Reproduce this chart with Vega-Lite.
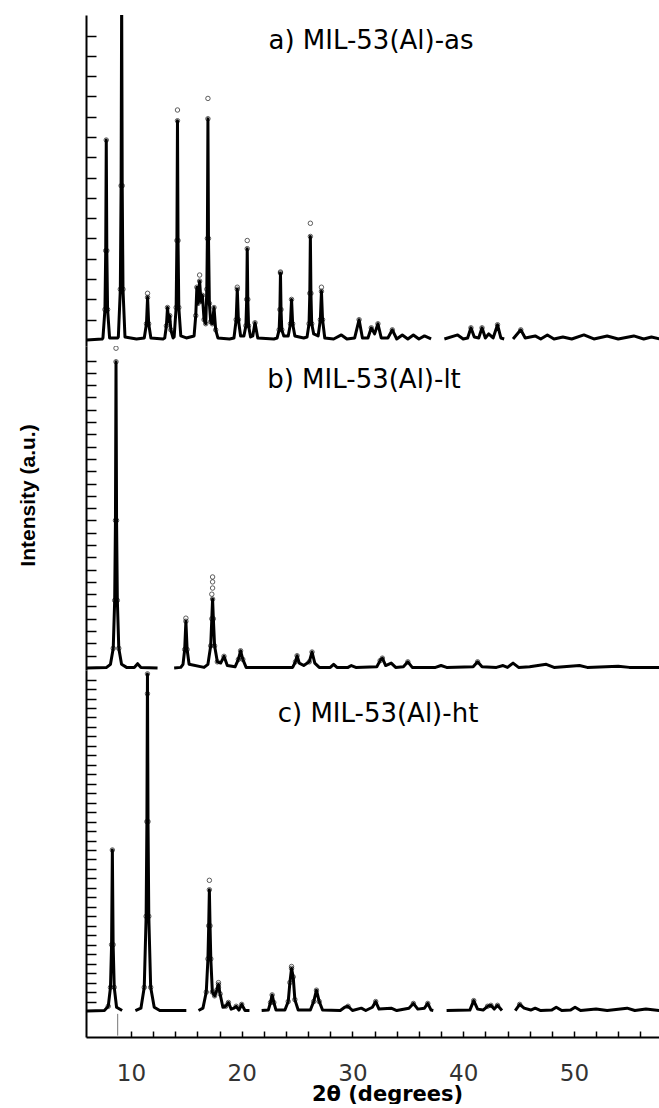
{
  "$schema": "https://vega.github.io/schema/vega-lite/v6.json",
  "padding": {"left": 17, "top": 15, "right": 0, "bottom": 0},
  "bounds": "flush",
  "spacing": 0,
  "config": {
    "view": {"stroke": null},
    "axis": {"grid": false, "domainColor": "black", "domainWidth": 2, "tickColor": "black", "tickWidth": 1.5},
    "title": {"font": "DejaVu Sans", "fontSize": 26, "fontWeight": "normal", "color": "black", "anchor": "middle", "frame": "group", "baseline": "alphabetic"}
  },
  "datasets": {
    "a": [
      {"s":1,"x":6.0,"y":0},{"s":1,"x":7.4,"y":0.05},{"s":1,"x":7.47,"y":0.1},{"s":1,"x":7.65,"y":1.5},{"s":1,"x":7.72,"y":4.4},{"s":1,"x":7.77,"y":9.85},{"s":1,"x":7.82,"y":4.4},{"s":1,"x":7.89,"y":1.5},{"s":1,"x":8.07,"y":0.1},{"s":1,"x":8.8,"y":0.1},
      {"s":1,"x":8.86,"y":0.15},{"s":1,"x":9.04,"y":2.5},{"s":1,"x":9.11,"y":7.6},{"s":1,"x":9.16,"y":17},{"s":1,"x":9.21,"y":7.6},{"s":1,"x":9.28,"y":2.5},{"s":1,"x":9.46,"y":0.15},{"s":1,"x":10.5,"y":0.05},
      {"s":1,"x":11.2,"y":0.1},{"s":1,"x":11.4,"y":0.8},{"s":1,"x":11.5,"y":2.1},{"s":1,"x":11.6,"y":0.8},{"s":1,"x":11.8,"y":0.1},{"s":1,"x":12.9,"y":0.05},
      {"s":1,"x":13.05,"y":0.1},{"s":1,"x":13.2,"y":0.7},{"s":1,"x":13.3,"y":1.6},{"s":1,"x":13.4,"y":0.9},{"s":1,"x":13.5,"y":1.2},{"s":1,"x":13.6,"y":0.5},{"s":1,"x":13.8,"y":0.1},
      {"s":1,"x":13.9,"y":0.15},{"s":1,"x":14.08,"y":1.6},{"s":1,"x":14.15,"y":4.9},{"s":1,"x":14.2,"y":10.8},{"s":1,"x":14.25,"y":4.9},{"s":1,"x":14.32,"y":1.6},{"s":1,"x":14.5,"y":0.2},{"s":1,"x":15.0,"y":0.1},
      {"s":1,"x":15.7,"y":0.2},{"s":1,"x":15.85,"y":1.2},{"s":1,"x":15.95,"y":2.6},{"s":1,"x":16.05,"y":1.8},{"s":1,"x":16.2,"y":2.9},{"s":1,"x":16.32,"y":1.9},{"s":1,"x":16.45,"y":2.2},{"s":1,"x":16.6,"y":1.0},{"s":1,"x":16.75,"y":0.8},
      {"s":1,"x":16.85,"y":2.5},{"s":1,"x":16.9,"y":5.0},{"s":1,"x":16.95,"y":10.9},{"s":1,"x":17.0,"y":5.0},{"s":1,"x":17.08,"y":1.8},{"s":1,"x":17.2,"y":0.9},{"s":1,"x":17.35,"y":0.8},{"s":1,"x":17.5,"y":1.6},{"s":1,"x":17.65,"y":0.5},{"s":1,"x":17.85,"y":0.1},
      {"s":1,"x":18.9,"y":0.05},{"s":1,"x":19.3,"y":0.1},{"s":1,"x":19.5,"y":1.0},{"s":1,"x":19.6,"y":2.5},{"s":1,"x":19.7,"y":1.0},{"s":1,"x":19.9,"y":0.2},
      {"s":1,"x":20.2,"y":0.2},{"s":1,"x":20.38,"y":0.7},{"s":1,"x":20.45,"y":2.0},{"s":1,"x":20.5,"y":4.5},{"s":1,"x":20.55,"y":2.0},{"s":1,"x":20.62,"y":0.7},{"s":1,"x":20.8,"y":0.15},{"s":1,"x":21.0,"y":0.2},{"s":1,"x":21.2,"y":0.85},{"s":1,"x":21.45,"y":0.1},
      {"s":1,"x":22.9,"y":0.05},{"s":1,"x":23.2,"y":0.1},{"s":1,"x":23.38,"y":0.5},{"s":1,"x":23.45,"y":1.5},{"s":1,"x":23.5,"y":3.3},{"s":1,"x":23.55,"y":1.5},{"s":1,"x":23.62,"y":0.5},{"s":1,"x":23.8,"y":0.2},
      {"s":1,"x":24.2,"y":0.2},{"s":1,"x":24.4,"y":0.8},{"s":1,"x":24.5,"y":2.0},{"s":1,"x":24.6,"y":0.8},{"s":1,"x":24.8,"y":0.2},{"s":1,"x":25.6,"y":0.1},
      {"s":1,"x":25.9,"y":0.15},{"s":1,"x":26.08,"y":0.8},{"s":1,"x":26.15,"y":2.3},{"s":1,"x":26.2,"y":5.1},{"s":1,"x":26.25,"y":2.3},{"s":1,"x":26.32,"y":0.8},{"s":1,"x":26.5,"y":0.3},
      {"s":1,"x":26.9,"y":0.2},{"s":1,"x":27.1,"y":1.0},{"s":1,"x":27.2,"y":2.4},{"s":1,"x":27.3,"y":1.0},{"s":1,"x":27.5,"y":0.1},
      {"s":1,"x":28.3,"y":0.05},{"s":1,"x":29.0,"y":0.25},{"s":1,"x":29.5,"y":0.05},{"s":1,"x":30.2,"y":0.1},{"s":1,"x":30.6,"y":1.0},{"s":1,"x":30.9,"y":0.1},{"s":1,"x":31.4,"y":0.1},{"s":1,"x":31.7,"y":0.6},{"s":1,"x":32.0,"y":0.3},{"s":1,"x":32.3,"y":0.8},{"s":1,"x":32.6,"y":0.1},
      {"s":1,"x":33.2,"y":0.1},{"s":1,"x":33.6,"y":0.5},{"s":1,"x":34.0,"y":0.05},{"s":1,"x":34.5,"y":0.25},{"s":1,"x":35.0,"y":0.05},{"s":1,"x":35.5,"y":0.25},{"s":1,"x":36.0,"y":0.05},{"s":1,"x":36.5,"y":0.2},{"s":1,"x":37.1,"y":0.05},
      {"s":2,"x":38.3,"y":0.05},{"s":2,"x":39.5,"y":0.25},{"s":2,"x":40.0,"y":0.05},{"s":2,"x":40.4,"y":0.1},{"s":2,"x":40.7,"y":0.6},{"s":2,"x":41.0,"y":0.15},{"s":2,"x":41.4,"y":0.1},{"s":2,"x":41.7,"y":0.6},{"s":2,"x":42.0,"y":0.1},{"s":2,"x":42.3,"y":0.3},{"s":2,"x":42.7,"y":0.1},{"s":2,"x":43.1,"y":0.75},{"s":2,"x":43.4,"y":0.1},{"s":2,"x":43.7,"y":0.05},
      {"s":3,"x":44.5,"y":0.05},{"s":3,"x":45.2,"y":0.5},{"s":3,"x":45.6,"y":0.1},{"s":3,"x":46.5,"y":0.2},{"s":3,"x":47.0,"y":0.05},{"s":3,"x":47.6,"y":0.25},{"s":3,"x":48.2,"y":0.05},{"s":3,"x":49.0,"y":0.15},{"s":3,"x":49.8,"y":0.05},{"s":3,"x":50.9,"y":0.25},{"s":3,"x":51.8,"y":0.05},{"s":3,"x":53.0,"y":0.2},{"s":3,"x":54.0,"y":0.05},{"s":3,"x":55.4,"y":0.2},{"s":3,"x":56.3,"y":0.05},{"s":3,"x":57.0,"y":0.15},{"s":3,"x":57.8,"y":0.05}
    ],
    "pa": [
      {"x":14.2,"y":11.33},{"x":16.95,"y":11.9},{"x":20.5,"y":4.9},{"x":26.2,"y":5.75},{"x":16.2,"y":3.2},{"x":11.5,"y":2.3},{"x":19.6,"y":2.6},{"x":27.2,"y":2.6},{"x":23.5,"y":3.35}
    ],
    "b": [
      {"s":1,"x":6.0,"y":0},{"s":1,"x":7.8,"y":0.05},{"s":1,"x":8.15,"y":0.3},{"s":1,"x":8.4,"y":1.6},{"s":1,"x":8.53,"y":5.5},{"s":1,"x":8.6,"y":12},{"s":1,"x":8.65,"y":24.9},{"s":1,"x":8.7,"y":12},{"s":1,"x":8.77,"y":5.5},{"s":1,"x":8.9,"y":1.6},{"s":1,"x":9.15,"y":0.3},{"s":1,"x":9.6,"y":0.05},{"s":1,"x":10.3,"y":0.05},{"s":1,"x":10.6,"y":0.35},{"s":1,"x":10.9,"y":0.05},{"s":1,"x":12.4,"y":0},
      {"s":2,"x":13.9,"y":0},{"s":2,"x":14.5,"y":0.05},{"s":2,"x":14.7,"y":0.3},{"s":2,"x":14.85,"y":1.5},{"s":2,"x":14.96,"y":3.8},{"s":2,"x":15.07,"y":1.5},{"s":2,"x":15.25,"y":0.3},{"s":2,"x":16.6,"y":0.05},
      {"s":2,"x":16.95,"y":0.3},{"s":2,"x":17.2,"y":1.8},{"s":2,"x":17.3,"y":4.0},{"s":2,"x":17.37,"y":5.6},{"s":2,"x":17.44,"y":4.0},{"s":2,"x":17.55,"y":1.8},{"s":2,"x":17.8,"y":0.5},{"s":2,"x":18.1,"y":0.4},{"s":2,"x":18.4,"y":0.95},{"s":2,"x":18.7,"y":0.2},
      {"s":2,"x":19.4,"y":0.1},{"s":2,"x":19.7,"y":0.7},{"s":2,"x":19.9,"y":1.4},{"s":2,"x":20.1,"y":0.7},{"s":2,"x":20.4,"y":0.05},{"s":2,"x":24.6,"y":0.05},{"s":2,"x":24.85,"y":0.5},{"s":2,"x":25.0,"y":1.0},{"s":2,"x":25.2,"y":0.4},{"s":2,"x":25.6,"y":0.2},{"s":2,"x":26.1,"y":0.5},{"s":2,"x":26.35,"y":1.3},{"s":2,"x":26.6,"y":0.4},{"s":2,"x":27.0,"y":0.05},
      {"s":2,"x":28.0,"y":0.05},{"s":2,"x":28.3,"y":0.3},{"s":2,"x":28.6,"y":0.05},{"s":2,"x":29.6,"y":0.05},{"s":2,"x":29.9,"y":0.2},{"s":2,"x":30.3,"y":0.05},{"s":2,"x":32.2,"y":0.1},{"s":2,"x":32.5,"y":0.6},{"s":2,"x":32.7,"y":0.8},{"s":2,"x":33.0,"y":0.2},{"s":2,"x":33.5,"y":0.4},{"s":2,"x":33.9,"y":0.05},
      {"s":2,"x":34.6,"y":0.1},{"s":2,"x":35.0,"y":0.5},{"s":2,"x":35.4,"y":0.05},{"s":2,"x":37.5,"y":0.05},{"s":2,"x":38.0,"y":0.2},{"s":2,"x":38.5,"y":0.05},{"s":2,"x":40.9,"y":0.1},{"s":2,"x":41.3,"y":0.5},{"s":2,"x":41.7,"y":0.1},{"s":2,"x":43.0,"y":0.05},{"s":2,"x":43.6,"y":0.2},{"s":2,"x":44.0,"y":0.05},{"s":2,"x":44.5,"y":0.4},{"s":2,"x":45.0,"y":0.05},
      {"s":2,"x":46.0,"y":0.1},{"s":2,"x":47.5,"y":0.3},{"s":2,"x":48.2,"y":0.05},{"s":2,"x":50.5,"y":0.2},{"s":2,"x":51.2,"y":0.05},{"s":2,"x":54.0,"y":0.15},{"s":2,"x":55.0,"y":0.05},{"s":2,"x":57.8,"y":0.05}
    ],
    "pb": [
      {"x":8.65,"y":26.0},{"x":17.37,"y":7.4},{"x":17.37,"y":7.0},{"x":17.37,"y":6.5},{"x":17.3,"y":6.0},{"x":14.96,"y":4.05}
    ],
    "c": [
      {"s":1,"x":6.0,"y":0},{"s":1,"x":7.6,"y":0.05},{"s":1,"x":7.95,"y":0.5},{"s":1,"x":8.15,"y":2.5},{"s":1,"x":8.25,"y":7.0},{"s":1,"x":8.32,"y":17.0},{"s":1,"x":8.39,"y":7.0},{"s":1,"x":8.49,"y":2.5},{"s":1,"x":8.7,"y":0.4},{"s":1,"x":9.2,"y":0.05},
      {"s":2,"x":10.4,"y":0.05},{"s":2,"x":10.9,"y":0.3},{"s":2,"x":11.2,"y":2.5},{"s":2,"x":11.37,"y":10},{"s":2,"x":11.44,"y":20},{"s":2,"x":11.49,"y":35.6},{"s":2,"x":11.54,"y":20},{"s":2,"x":11.61,"y":10},{"s":2,"x":11.78,"y":2.5},{"s":2,"x":12.1,"y":0.4},{"s":2,"x":12.6,"y":0.05},{"s":2,"x":15.0,"y":0.05},
      {"s":3,"x":16.1,"y":0.05},{"s":3,"x":16.5,"y":0.3},{"s":3,"x":16.8,"y":2.0},{"s":3,"x":16.95,"y":5.5},{"s":3,"x":17.02,"y":9},{"s":3,"x":17.08,"y":12.8},{"s":3,"x":17.14,"y":9},{"s":3,"x":17.21,"y":5.5},{"s":3,"x":17.35,"y":2.0},{"s":3,"x":17.55,"y":1.6},{"s":3,"x":17.75,"y":2.2},{"s":3,"x":17.9,"y":2.8},{"s":3,"x":18.05,"y":1.8},{"s":3,"x":18.3,"y":0.4},{"s":3,"x":18.55,"y":0.5},{"s":3,"x":18.8,"y":0.9},{"s":3,"x":19.05,"y":0.2},{"s":3,"x":19.3,"y":0.3},{"s":3,"x":19.5,"y":0.5},{"s":3,"x":19.75,"y":0.1},{"s":3,"x":20.0,"y":0.7},{"s":3,"x":20.3,"y":0.05},{"s":3,"x":20.7,"y":0.05},
      {"s":4,"x":21.8,"y":0.05},{"s":4,"x":22.4,"y":0.1},{"s":4,"x":22.6,"y":0.9},{"s":4,"x":22.75,"y":1.7},{"s":4,"x":22.9,"y":0.9},{"s":4,"x":23.1,"y":0.1},{"s":4,"x":23.9,"y":0.1},{"s":4,"x":24.2,"y":1.0},{"s":4,"x":24.35,"y":3.0},{"s":4,"x":24.5,"y":4.5},{"s":4,"x":24.65,"y":3.6},{"s":4,"x":24.8,"y":1.2},{"s":4,"x":25.1,"y":0.1},
      {"s":4,"x":26.2,"y":0.1},{"s":4,"x":26.5,"y":1.0},{"s":4,"x":26.75,"y":2.2},{"s":4,"x":27.0,"y":1.0},{"s":4,"x":27.3,"y":0.1},{"s":4,"x":28.9,"y":0.05},{"s":4,"x":29.3,"y":0.4},{"s":4,"x":29.6,"y":0.5},{"s":4,"x":30.0,"y":0.05},{"s":4,"x":30.8,"y":0.3},{"s":4,"x":31.2,"y":0.05},{"s":4,"x":31.8,"y":0.4},{"s":4,"x":32.1,"y":1.0},{"s":4,"x":32.4,"y":0.2},
      {"s":4,"x":33.5,"y":0.3},{"s":4,"x":34.0,"y":0.05},{"s":4,"x":35.1,"y":0.3},{"s":4,"x":35.5,"y":0.8},{"s":4,"x":35.9,"y":0.2},{"s":4,"x":36.5,"y":0.3},{"s":4,"x":36.8,"y":0.8},{"s":4,"x":37.1,"y":0.1},{"s":4,"x":37.3,"y":0.05},
      {"s":5,"x":38.5,"y":0.05},{"s":5,"x":40.6,"y":0.1},{"s":5,"x":40.95,"y":1.1},{"s":5,"x":41.3,"y":0.2},{"s":5,"x":41.8,"y":0.1},{"s":5,"x":42.2,"y":0.5},{"s":5,"x":42.5,"y":0.6},{"s":5,"x":42.8,"y":0.2},{"s":5,"x":43.1,"y":0.6},{"s":5,"x":43.5,"y":0.05},
      {"s":6,"x":44.7,"y":0.05},{"s":6,"x":45.1,"y":0.7},{"s":6,"x":45.5,"y":0.3},{"s":6,"x":46.1,"y":0.1},{"s":6,"x":46.5,"y":0.3},{"s":6,"x":47.0,"y":0.05},{"s":6,"x":48.0,"y":0.1},{"s":6,"x":48.4,"y":0.4},{"s":6,"x":48.9,"y":0.05},{"s":6,"x":49.7,"y":0.1},{"s":6,"x":50.1,"y":0.4},{"s":6,"x":50.6,"y":0.05},{"s":6,"x":52.0,"y":0.2},{"s":6,"x":53.0,"y":0.05},{"s":6,"x":54.8,"y":0.3},{"s":6,"x":55.5,"y":0.05},{"s":6,"x":56.5,"y":0.2},{"s":6,"x":57.8,"y":0.05}
    ],
    "pc": [
      {"x":17.08,"y":13.8},{"x":17.9,"y":3.0},{"x":17.9,"y":2.5},{"x":24.5,"y":4.7},{"x":11.49,"y":33.5}
    ],
    "mc": [
      {"x":8.8,"y":-0.3,"y2":-2.6}
    ]
  },
  "vconcat": [
    {
      "width": 574,
      "height": 331,
      "title": {"text": "a) MIL-53(Al)-as", "offset": -39, "dx": -2},
      "encoding": {
        "x": {"field": "x", "type": "quantitative", "scale": {"domain": [5.94, 57.77], "nice": false, "zero": false}, "axis": null},
        "y": {"field": "y", "type": "quantitative", "scale": {"domain": [-0.296, 16.01], "nice": false, "zero": false},
              "axis": {"title": null, "labels": false, "values": [1,2,3,4,5,6,7,8,9,10,11,12,13,14,15], "tickSize": -10}}
      },
      "layer": [
        {"data": {"name": "a"}, "mark": {"type": "line", "color": "black", "strokeWidth": 3, "strokeJoin": "round", "clip": true}, "encoding": {"detail": {"field": "s"}}},
        {"data": {"name": "a"}, "transform": [{"filter": "datum.y > 0.4"}], "mark": {"type": "point", "shape": "circle", "filled": false, "size": 20, "color": "black", "strokeWidth": 0.9, "clip": true}},
        {"data": {"name": "pa"}, "mark": {"type": "point", "shape": "circle", "filled": false, "size": 20, "color": "black", "strokeWidth": 0.9, "clip": true}}
      ]
    },
    {
      "width": 574,
      "height": 324,
      "title": {"text": "b) MIL-53(Al)-lt", "offset": -47, "dx": -9},
      "encoding": {
        "x": {"field": "x", "type": "quantitative", "scale": {"domain": [5.94, 57.77], "nice": false, "zero": false}, "axis": null},
        "y": {"field": "y", "type": "quantitative", "scale": {"domain": [-0.163, 26.18], "nice": false, "zero": false},
              "axis": {"title": "Intensity (a.u.)", "labels": false, "values": [1,2,3,4,5,6,7,8,9,10,11,12,13,14,15,16,17,18,19,20,21,22,23,24,25],
                       "tickSize": -10,
                       "titleFont": "Liberation Sans", "titleFontSize": 21, "titleFontWeight": "bold", "titleColor": "black",
                       "titleAngle": -90, "titleX": -57.5, "titleY": 149, "titleAlign": "center", "titleBaseline": "middle"}}
      },
      "layer": [
        {"data": {"name": "b"}, "mark": {"type": "line", "color": "black", "strokeWidth": 3, "strokeJoin": "round", "clip": true}, "encoding": {"detail": {"field": "s"}}},
        {"data": {"name": "b"}, "transform": [{"filter": "datum.y > 0.4"}], "mark": {"type": "point", "shape": "circle", "filled": false, "size": 20, "color": "black", "strokeWidth": 0.9, "clip": true}},
        {"data": {"name": "pb"}, "mark": {"type": "point", "shape": "circle", "filled": false, "size": 20, "color": "black", "strokeWidth": 0.9, "clip": true}}
      ]
    },
    {
      "width": 574,
      "height": 367,
      "title": {"text": "c) MIL-53(Al)-ht", "offset": -57, "dx": 5},
      "encoding": {
        "x": {"field": "x", "type": "quantitative", "scale": {"domain": [5.94, 57.77], "nice": false, "zero": false},
              "axis": {"title": "2θ (degrees)", "values": [10,12,14,16,18,20,22,24,26,28,30,32,34,36,38,40,42,44,46,48,50,52,54,56],
                       "labelExpr": "datum.value % 10 === 0 ? datum.label : ''", "labelOverlap": false, "labelFlush": false,
                       "tickSize": -6,
                       "labelFont": "DejaVu Sans", "labelFontSize": 23, "labelColor": "#333", "labelBaseline": "alphabetic", "labelPadding": 49,
                       "titleFont": "DejaVu Sans", "titleFontSize": 21, "titleFontWeight": "bold", "titleColor": "black",
                       "titleX": 301, "titleY": 63, "titleBaseline": "alphabetic", "titleAlign": "center"}},
        "y": {"field": "y", "type": "quantitative", "scale": {"domain": [-2.745, 36.01], "nice": false, "zero": false},
              "axis": {"title": null, "labels": false, "values": [1,2,3,4,5,6,7,8,9,10,11,12,13,14,15,16,17,18,19,20,21,22,23,24,25,26,27,28,29,30,31,32,33,34,35], "tickSize": -10}}
      },
      "layer": [
        {"data": {"name": "c"}, "mark": {"type": "line", "color": "black", "strokeWidth": 3, "strokeJoin": "round", "clip": true}, "encoding": {"detail": {"field": "s"}}},
        {"data": {"name": "c"}, "transform": [{"filter": "datum.y > 0.4"}], "mark": {"type": "point", "shape": "circle", "filled": false, "size": 20, "color": "black", "strokeWidth": 0.9, "clip": true}},
        {"data": {"name": "pc"}, "mark": {"type": "point", "shape": "circle", "filled": false, "size": 20, "color": "black", "strokeWidth": 0.9, "clip": true}},
        {"data": {"name": "mc"}, "mark": {"type": "rule", "color": "#777", "strokeWidth": 1}, "encoding": {"y2": {"field": "y2"}}}
      ]
    }
  ]
}
